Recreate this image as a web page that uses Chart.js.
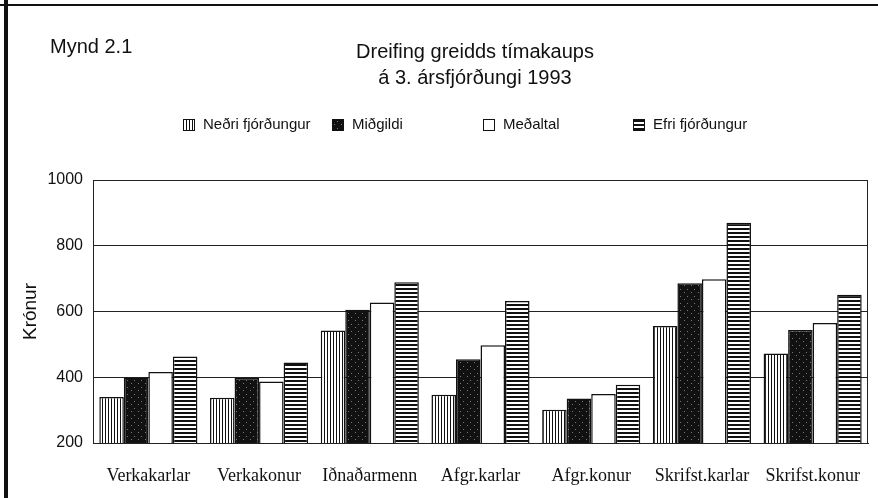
<!DOCTYPE html>
<html>
<head>
<meta charset="utf-8">
<script src="https://cdn.jsdelivr.net/npm/chart.js@4/dist/chart.umd.min.js"></script>
<style>
  html, body { margin: 0; padding: 0; background: #fff; }
  canvas { display: block; }
</style>
</head>
<body>
<canvas id="c" width="878" height="498"></canvas>
<script>
const categories = ['Verkakarlar', 'Verkakonur', 'Iðnaðarmenn', 'Afgr.karlar', 'Afgr.konur', 'Skrifst.karlar', 'Skrifst.konur'];
const seriesNames = ['Neðri fjórðungur', 'Miðgildi', 'Meðaltal', 'Efri fjórðungur'];
const nedri = [340, 338, 542, 347, 301, 556, 472];
const midgildi = [399, 398, 605, 455, 335, 686, 544];
const medaltal = [416, 387, 627, 497, 349, 698, 565];
const efri = [463, 445, 689, 632, 377, 870, 651];
const yTicks = [200, 400, 600, 800, 1000];

const canvas = document.getElementById('c');
const ctx = canvas.getContext('2d');

// hatch fills like the printed original
function makePattern(kind) {
    const p = document.createElement('canvas');
    const g = p.getContext('2d');
    if (kind === 'vert') {
        p.width = 3; p.height = 4;
        g.fillStyle = '#fff'; g.fillRect(0, 0, 3, 4);
        g.fillStyle = '#111'; g.fillRect(0, 0, 1, 4);
    } else if (kind === 'horiz') {
        p.width = 4; p.height = 4;
        g.fillStyle = '#fff'; g.fillRect(0, 0, 4, 4);
        g.fillStyle = '#111'; g.fillRect(0, 0, 4, 2);
    } else if (kind === 'dark') {
        p.width = 7; p.height = 7;
        g.fillStyle = '#111'; g.fillRect(0, 0, 7, 7);
        g.fillStyle = '#777';
        g.fillRect(1, 2, 1, 1);
        g.fillRect(5, 5, 1, 1);
    } else {
        return '#fff';
    }
    return ctx.createPattern(p, 'repeat');
}

const fills = [makePattern('vert'), makePattern('dark'), '#fff', makePattern('horiz')];
const values = [nedri, midgildi, medaltal, efri];

const framePlugin = {
    id: 'frame',
    beforeDraw(chart) {
        const c = chart.ctx;
        c.save();
        c.fillStyle = '#fff';
        c.fillRect(0, 0, chart.width, chart.height);
        c.restore();
    },
    afterDraw(chart) {
        const c = chart.ctx;
        const a = chart.chartArea;
        c.save();
        // plot box
        c.strokeStyle = '#222';
        c.lineWidth = 1;
        c.strokeRect(a.left + 0.5, a.top + 0.5, a.right - a.left - 1, a.bottom - a.top);

        // page frame (scan edges)
        c.fillStyle = '#111';
        c.fillRect(4, 0, 4, chart.height);
        c.fillRect(0, 4, chart.width, 2);

        c.fillStyle = '#111';
        c.textBaseline = 'middle';
        c.font = '20px "Liberation Sans", Arial, sans-serif';
        c.textAlign = 'left';
        c.fillText('Mynd 2.1', 50, 47);

        c.textAlign = 'center';
        c.fillText('Dreifing greidds tímakaups', 475, 52);
        c.fillText('á 3. ársfjórðungi 1993', 475, 78);

        // legend in fixed columns
        const xs = [183, 332, 483, 633];
        const ly = 125;
        c.font = '15px "Liberation Sans", Arial, sans-serif';
        c.textAlign = 'left';
        chart.data.datasets.forEach((ds, i) => {
            c.fillStyle = ds.backgroundColor;
            c.fillRect(xs[i], ly - 6, 11, 12);
            c.strokeStyle = '#111';
            c.lineWidth = 1;
            c.strokeRect(xs[i] + 0.5, ly - 5.5, 11, 11);
            c.fillStyle = '#111';
            c.fillText(ds.label, xs[i] + 20, ly);
        });
        c.restore();
    }
};

new Chart(canvas, {
    type: 'bar',
    data: {
        labels: categories,
        datasets: seriesNames.map((name, i) => ({
            label: name,
            data: values[i],
            backgroundColor: fills[i],
            borderColor: '#111',
            borderWidth: 1.5,
            borderSkipped: 'bottom',
            categoryPercentage: 0.886,
            barPercentage: 1.0
        }))
    },
    options: {
        responsive: false,
        animation: false,
        layout: { padding: { top: 180, right: 10, left: 0, bottom: 0 } },
        plugins: {
            legend: { display: false },
            title: { display: false },
            tooltip: { enabled: false }
        },
        scales: {
            x: {
                grid: { display: false, drawTicks: false },
                border: { display: true, color: '#222' },
                ticks: {
                    color: '#111',
                    padding: 22,
                    maxRotation: 0,
                    font: { family: '"Liberation Serif", "Times New Roman", serif', size: 18 }
                },
                afterFit(s) {
                    s.height = 55;
                    s.paddingLeft = 0;
                    s.paddingRight = 0;
                }
            },
            y: {
                min: yTicks[0],
                max: yTicks[yTicks.length - 1],
                afterBuildTicks(s) { s.ticks = yTicks.map(v => ({ value: v })); },
                grid: { color: '#222', lineWidth: 1, drawTicks: false },
                border: { display: true, color: '#222' },
                ticks: {
                    color: '#111',
                    padding: 10,
                    callback: v => String(v),
                    font: { family: '"Liberation Sans", Arial, sans-serif', size: 16 }
                },
                title: {
                    display: true,
                    text: 'Krónur',
                    color: '#111',
                    padding: { top: 19 },
                    font: { family: '"Liberation Sans", Arial, sans-serif', size: 19 }
                },
                afterFit(s) { s.width = 93; }
            }
        }
    },
    plugins: [framePlugin]
});
</script>
</body>
</html>
